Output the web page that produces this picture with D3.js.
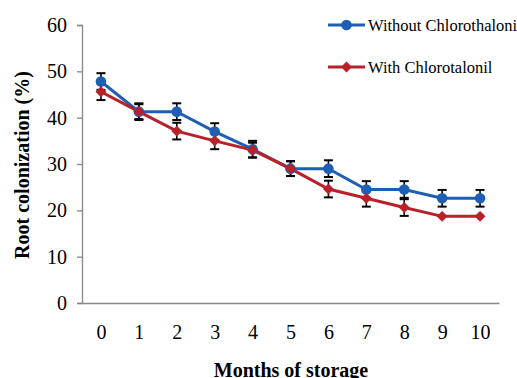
<!DOCTYPE html>
<html lang="en">
<head>
<meta charset="utf-8">
<title>Root colonization</title>
<script src="https://cdn.jsdelivr.net/npm/d3@7"></script>
<style>
  body { margin: 0; background: #fff; }
  text { font-family: "Liberation Serif", "Times New Roman", serif; }
</style>
</head>
<body>
<script>
// months of storage
var months = [0, 1, 2, 3, 4, 5, 6, 7, 8, 9, 10];
var yTicks = [0, 10, 20, 30, 40, 50, 60];

// root colonization (%) and error bars
var withoutVals = [47.8, 41.3, 41.3, 37.0, 33.2, 29.0, 29.0, 24.5, 24.5, 22.6, 22.6];
var withoutErr  = [1.8, 1.8, 1.8, 1.8, 1.8, 1.6, 1.8, 1.8, 1.8, 1.8, 1.8];
var withVals    = [45.6, 41.3, 37.1, 35.0, 33.0, 29.0, 24.6, 22.6, 20.6, 18.7, 18.7];
var withErr     = [1.8, 1.6, 1.8, 1.8, 1.6, 1.6, 1.8, 1.8, 1.8, 0, 0];

var seriesNames = ["Without Chlorothalonil", "With Chlorotalonil"];

var w = 517, h = 378;
// note: "top" is reserved on window, so use plot* names
var plotLeft = 82, plotRight = 499, plotTop = 25, plotBottom = 303;

var svg = d3.select("body").append("svg")
    .attr("width", w)
    .attr("height", h);

var xScale = d3.scalePoint()
    .domain(months)
    .range([plotLeft, plotRight])
    .padding(0.5);

var yScale = d3.scaleLinear()
    .domain([0, 60])
    .range([plotBottom, plotTop]);

// y axis
var yAxis = svg.append("g")
    .attr("transform", "translate(" + plotLeft + ",0)")
    .call(d3.axisLeft(yScale).tickValues(yTicks).tickSize(5).tickPadding(10));
yAxis.selectAll("text").attr("font-size", "20px").attr("fill", "#000")
    .style("font-family", "'Liberation Serif', serif");
yAxis.select(".domain").attr("stroke", "#888").attr("stroke-width", 1.3);
yAxis.selectAll(".tick line").attr("stroke", "#888").attr("stroke-width", 1.3);

// x axis (line only, no tick marks)
var xAxis = svg.append("g")
    .attr("transform", "translate(0," + plotBottom + ")")
    .call(d3.axisBottom(xScale).tickSize(0).tickSizeOuter(0).tickPadding(22));
xAxis.selectAll("text").attr("font-size", "20px").attr("fill", "#000")
    .style("font-family", "'Liberation Serif', serif");
xAxis.select(".domain").attr("stroke", "#888").attr("stroke-width", 1.3);

// axis titles
svg.append("text")
    .attr("x", 291)
    .attr("y", 377)
    .attr("text-anchor", "middle")
    .attr("font-size", "20px")
    .attr("font-weight", "bold")
    .text("Months of storage");

svg.append("text")
    .attr("transform", "translate(29,165) rotate(-90)")
    .attr("text-anchor", "middle")
    .attr("font-size", "20px")
    .attr("font-weight", "bold")
    .text("Root colonization (%)");

var line = d3.line()
    .x(function(d) { return xScale(d.m); })
    .y(function(d) { return yScale(d.v); });

function makeData(vals, errs) {
    return months.map(function(m, i) { return { m: m, v: vals[i], e: errs[i] }; });
}

var series = [
    { name: seriesNames[0], color: "#1f5fb3", shape: "circle", data: makeData(withoutVals, withoutErr) },
    { name: seriesNames[1], color: "#b8202a", shape: "diamond", data: makeData(withVals, withErr) }
];

var circleSym = d3.symbol().type(d3.symbolCircle).size(88);
var diamondSym = d3.symbol().type(d3.symbolSquare).size(60);

// lines first
series.forEach(function(s) {
    svg.append("path")
        .datum(s.data)
        .attr("d", line)
        .attr("fill", "none")
        .attr("stroke", s.color)
        .attr("stroke-width", 3);
});

// error bars
series.forEach(function(s) {
    var eb = svg.append("g").selectAll("g")
        .data(s.data.filter(function(d) { return d.e > 0; }))
        .enter().append("g");
    eb.append("line")
        .attr("x1", function(d) { return xScale(d.m); })
        .attr("x2", function(d) { return xScale(d.m); })
        .attr("y1", function(d) { return yScale(d.v + d.e); })
        .attr("y2", function(d) { return yScale(d.v - d.e); })
        .attr("stroke", "#000").attr("stroke-width", 1.6);
    [1, -1].forEach(function(sign) {
        eb.append("line")
            .attr("x1", function(d) { return xScale(d.m) - 4.5; })
            .attr("x2", function(d) { return xScale(d.m) + 4.5; })
            .attr("y1", function(d) { return yScale(d.v + sign * d.e); })
            .attr("y2", function(d) { return yScale(d.v + sign * d.e); })
            .attr("stroke", "#000").attr("stroke-width", 2);
    });
});

// markers
series.forEach(function(s) {
    svg.append("g").selectAll("path")
        .data(s.data)
        .enter().append("path")
        .attr("d", s.shape == "circle" ? circleSym : diamondSym)
        .attr("transform", function(d) {
            return "translate(" + xScale(d.m) + "," + yScale(d.v) + ")" + (s.shape == "circle" ? "" : " rotate(45)");
        })
        .attr("fill", s.color);
});

// legend
var legend = svg.append("g").selectAll("g")
    .data(series)
    .enter().append("g")
    .attr("transform", function(d, i) { return "translate(328," + (25 + i * 42) + ")"; });
legend.append("line")
    .attr("x1", 0).attr("x2", 37)
    .attr("stroke", function(d) { return d.color; })
    .attr("stroke-width", 3);
legend.append("path")
    .attr("d", function(d) { return d.shape == "circle" ? circleSym() : diamondSym(); })
    .attr("transform", function(d) { return "translate(18.5,0)" + (d.shape == "circle" ? "" : " rotate(45)"); })
    .attr("fill", function(d) { return d.color; });
legend.append("text")
    .attr("x", 40)
    .attr("y", 5.5)
    .attr("font-size", "16.5px")
    .text(function(d) { return d.name; });
</script>
</body>
</html>
